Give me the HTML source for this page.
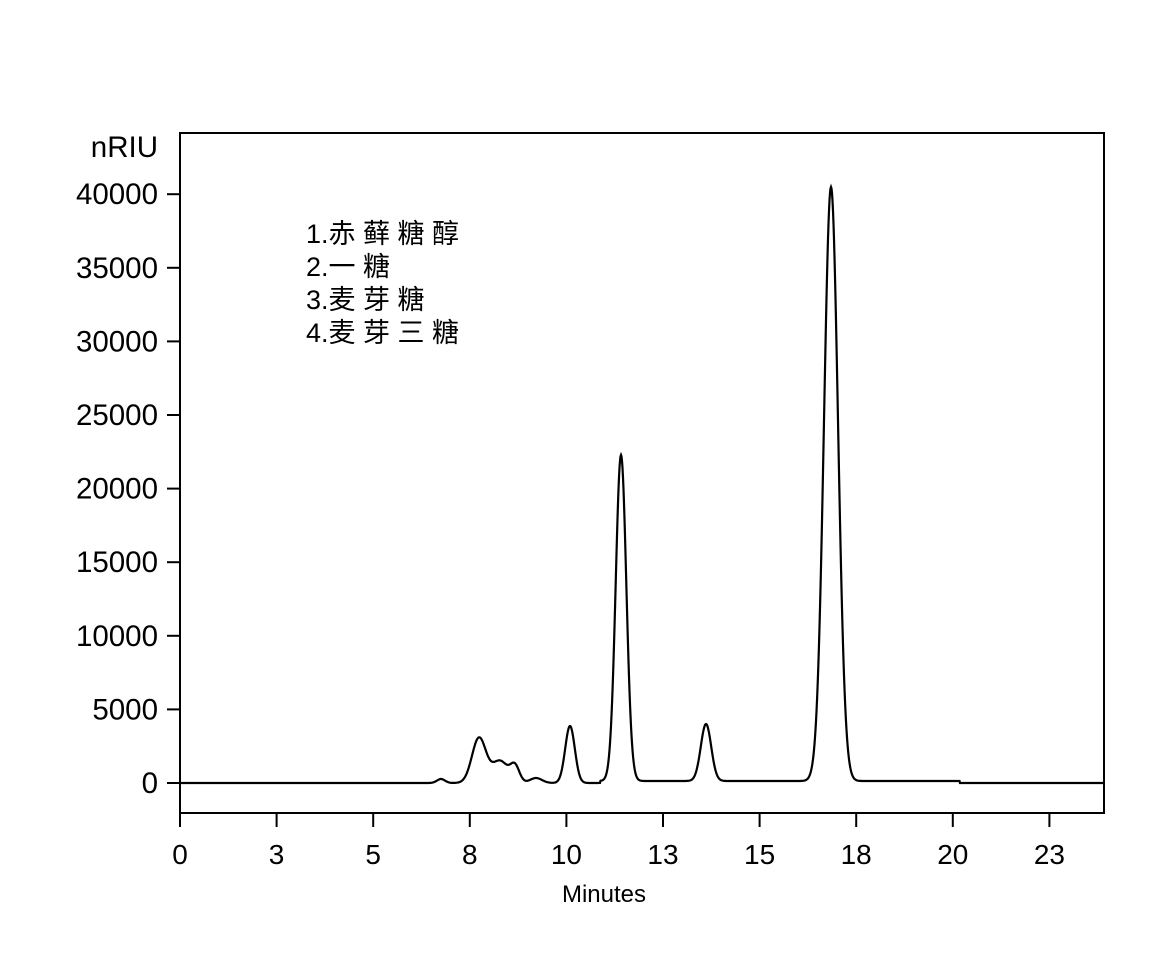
<!DOCTYPE html>
<html><head><meta charset="utf-8"><style>
html,body{margin:0;padding:0;background:#fff;}
svg{display:block;font-family:"Liberation Sans","Noto Sans CJK SC",sans-serif;}
</style></head><body>
<svg id="s" width="1174" height="980" viewBox="0 0 1174 980">
<rect x="180" y="133" width="924" height="680" fill="none" stroke="#000" stroke-width="2"/>
<g stroke="#000" stroke-width="2" id="ticks"></g>
<g font-size="29.5" text-anchor="end" id="yl"></g>
<g font-size="28" text-anchor="middle" id="xl"></g>
<text x="158" y="157" font-size="29.5" text-anchor="end">nRIU</text>
<text x="604" y="902" font-size="24" text-anchor="middle">Minutes</text>
<g font-size="27">
<text x="306" y="243">1.赤 藓 糖 醇</text>
<text x="306" y="276">2.一 糖</text>
<text x="306" y="309">3.麦 芽 糖</text>
<text x="306" y="342">4.麦 芽 三 糖</text>
</g>
<path id="p" fill="none" stroke="#000" stroke-width="2.2"/>
</svg>
<script>
var NS="http://www.w3.org/2000/svg",t=document.getElementById('ticks'),yl=document.getElementById('yl'),xl=document.getElementById('xl');
function el(g,n,a,tx){var e=document.createElementNS(NS,n);for(var k in a)e.setAttribute(k,a[k]);if(tx)e.textContent=tx;g.appendChild(e);}
for(var i=0;i<=8;i++){var y=783-i*73.6;el(t,'line',{x1:167,x2:180,y1:y,y2:y});el(yl,'text',{x:158,y:y+10},String(i*5000));}
var xs=['0','3','5','8','10','13','15','18','20','23'];
for(var i=0;i<10;i++){var x=180+i*96.6;el(t,'line',{x1:x,x2:x,y1:813,y2:827});el(xl,'text',{x:x,y:864},xs[i]);}
var pk=[[479,45,7],[500,22,8],[515,16,4.5],[536,5,6],[570,57,4.8],[621,326,5.3],[706,57,5.2],[831,594,7],[441,4,4]];
var d='';
for(var x=181;x<=1103;x+=0.5){var b=783-2*(x>600&&x<960?1:0);
var y=b;for(var j=0;j<pk.length;j++){var p=pk[j];y-=p[1]*Math.exp(-Math.pow((x-p[0])/p[2],2)/2);}
d+=(d?'L':'M')+x.toFixed(1)+' '+y.toFixed(1);}
document.getElementById('p').setAttribute('d',d);
</script>
</body></html>
